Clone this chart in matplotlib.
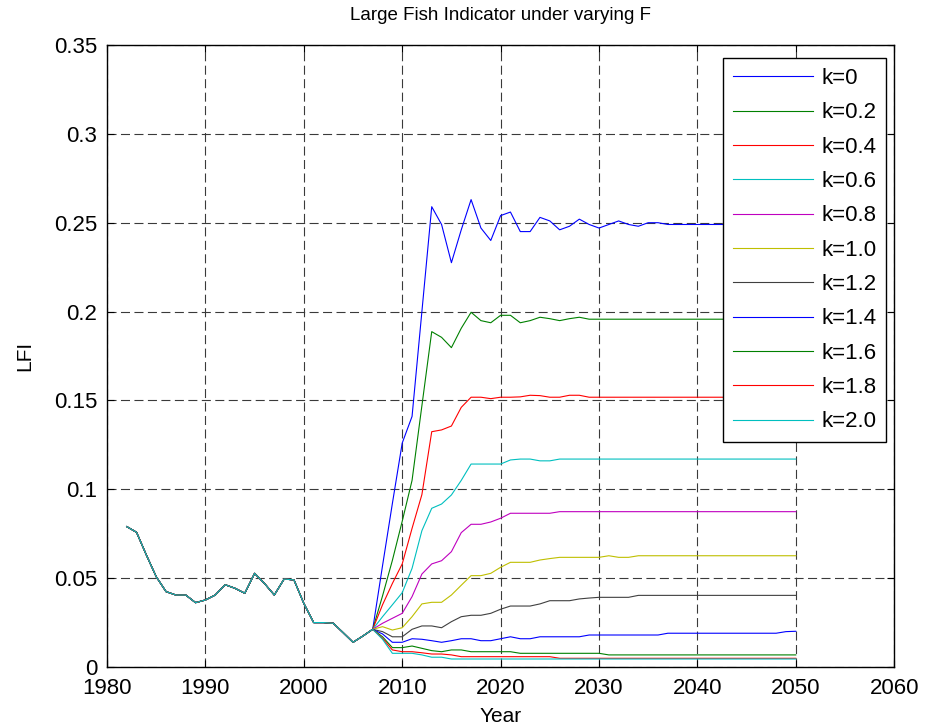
import matplotlib
matplotlib.use("Agg")
import matplotlib.pyplot as plt
import numpy as np

plt.rcParams['font.family'] = ['Liberation Sans', 'DejaVu Sans']

# ---------------- data ----------------
hist_years = list(range(1982, 2008))
hist_lfi = [0.079, 0.0758, 0.063, 0.0508, 0.0424, 0.0405, 0.0405, 0.0362, 0.0377, 0.0405,
            0.0463, 0.0443, 0.0415, 0.0527, 0.047, 0.0405, 0.0495, 0.049, 0.0358, 0.025,
            0.025, 0.0246, 0.0193, 0.0139, 0.0174, 0.0212]

proj_years = list(range(2008, 2051))

k_labels = ['k=0', 'k=0.2', 'k=0.4', 'k=0.6', 'k=0.8', 'k=1.0',
            'k=1.2', 'k=1.4', 'k=1.6', 'k=1.8', 'k=2.0']

k00 = [0.057, 0.092, 0.126, 0.141, 0.200, 0.259, 0.249, 0.2275, 0.246, 0.263,
       0.247, 0.240, 0.254, 0.256, 0.245, 0.245, 0.253, 0.251, 0.246, 0.248,
       0.252, 0.249, 0.247, 0.249, 0.251, 0.249, 0.248, 0.250, 0.250, 0.249,
       0.249, 0.249, 0.249, 0.249, 0.249, 0.249, 0.249, 0.249, 0.249, 0.249,
       0.249, 0.249, 0.249]
k02 = [0.040, 0.060, 0.082, 0.105, 0.147, 0.1887, 0.1855, 0.1797, 0.1906, 0.1996,
       0.1949, 0.1937, 0.1979, 0.1979, 0.1937, 0.1949, 0.1968, 0.1960, 0.1949, 0.1960,
       0.1968, 0.1957, 0.1957, 0.1957, 0.1957, 0.1957, 0.1957, 0.1957, 0.1957, 0.1957,
       0.1957, 0.1957, 0.1957, 0.1957, 0.1957, 0.1957, 0.1957, 0.1957, 0.1957, 0.1957,
       0.1957, 0.1957, 0.1957]
k04 = [0.035, 0.047, 0.058, 0.078, 0.097, 0.1324, 0.1334, 0.1356, 0.1461, 0.1518,
       0.1518, 0.1510, 0.1518, 0.1518, 0.1520, 0.1529, 0.1527, 0.1518, 0.1518, 0.1529,
       0.1529, 0.1518, 0.1518, 0.1518, 0.1518, 0.1518, 0.1518, 0.1518, 0.1518, 0.1518,
       0.1518, 0.1518, 0.1518, 0.1518, 0.1518, 0.1518, 0.1518, 0.1518, 0.1518, 0.1518,
       0.1518, 0.1518, 0.1518]
k06 = [0.0283, 0.0350, 0.0418, 0.0555, 0.0767, 0.0893, 0.0917, 0.0968, 0.1050, 0.1142,
       0.1142, 0.1142, 0.1142, 0.1165, 0.1170, 0.1170, 0.1160, 0.1160, 0.1170, 0.1170,
       0.1170, 0.1170, 0.1170, 0.1170, 0.1170, 0.1170, 0.1170, 0.1170, 0.1170, 0.1170,
       0.1170, 0.1170, 0.1170, 0.1170, 0.1170, 0.1170, 0.1170, 0.1170, 0.1170, 0.1170,
       0.1170, 0.1170, 0.1170]
k08 = [0.0246, 0.0274, 0.0302, 0.0396, 0.0523, 0.0580, 0.0598, 0.0649, 0.0756, 0.0803,
       0.0803, 0.0816, 0.0837, 0.0865, 0.0865, 0.0865, 0.0865, 0.0865, 0.0874, 0.0874,
       0.0874, 0.0874, 0.0874, 0.0874, 0.0874, 0.0874, 0.0874, 0.0874, 0.0874, 0.0874,
       0.0874, 0.0874, 0.0874, 0.0874, 0.0874, 0.0874, 0.0874, 0.0874, 0.0874, 0.0874,
       0.0874, 0.0874, 0.0874]
k10 = [0.0227, 0.0208, 0.0221, 0.0283, 0.0355, 0.0364, 0.0364, 0.0405, 0.0460, 0.0514,
       0.0514, 0.0527, 0.0561, 0.0589, 0.0589, 0.0589, 0.0602, 0.0610, 0.0617, 0.0617,
       0.0617, 0.0617, 0.0617, 0.0626, 0.0617, 0.0617, 0.0626, 0.0626, 0.0626, 0.0626,
       0.0626, 0.0626, 0.0626, 0.0626, 0.0626, 0.0626, 0.0626, 0.0626, 0.0626, 0.0626,
       0.0626, 0.0626, 0.0626]
k12 = [0.0199, 0.0170, 0.0170, 0.0212, 0.0231, 0.0231, 0.0221, 0.0255, 0.0283, 0.0291,
       0.0291, 0.0302, 0.0325, 0.0343, 0.0343, 0.0343, 0.0355, 0.0373, 0.0373, 0.0373,
       0.0383, 0.0388, 0.0392, 0.0392, 0.0392, 0.0392, 0.0403, 0.0403, 0.0403, 0.0403,
       0.0403, 0.0403, 0.0403, 0.0403, 0.0403, 0.0403, 0.0403, 0.0403, 0.0403, 0.0403,
       0.0403, 0.0403, 0.0403]
k14 = [0.0186, 0.0139, 0.0139, 0.0159, 0.0156, 0.0148, 0.0139, 0.0148, 0.0159, 0.0159,
       0.0148, 0.0148, 0.0159, 0.0170, 0.0159, 0.0159, 0.0170, 0.0170, 0.0170, 0.0170,
       0.0170, 0.0180, 0.0180, 0.0180, 0.0180, 0.0180, 0.0180, 0.0180, 0.0180, 0.0190,
       0.0190, 0.0190, 0.0190, 0.0190, 0.0190, 0.0190, 0.0190, 0.0190, 0.0190, 0.0190,
       0.0190, 0.0199, 0.0201]
k16 = [0.0170, 0.0109, 0.0109, 0.0118, 0.0105, 0.0092, 0.0086, 0.0096, 0.0096, 0.0086,
       0.0086, 0.0086, 0.0086, 0.0086, 0.0077, 0.0077, 0.0077, 0.0077, 0.0077, 0.0077,
       0.0077, 0.0077, 0.0077, 0.0068, 0.0068, 0.0068, 0.0068, 0.0068, 0.0068, 0.0068,
       0.0068, 0.0068, 0.0068, 0.0068, 0.0068, 0.0068, 0.0068, 0.0068, 0.0068, 0.0068,
       0.0068, 0.0068, 0.0068]
k18 = [0.0161, 0.0096, 0.0086, 0.0086, 0.0080, 0.0073, 0.0073, 0.0068, 0.0058, 0.0058,
       0.0058, 0.0058, 0.0058, 0.0058, 0.0058, 0.0058, 0.0058, 0.0058, 0.0049, 0.0049,
       0.0049, 0.0049, 0.0049, 0.0049, 0.0049, 0.0049, 0.0049, 0.0049, 0.0049, 0.0049,
       0.0049, 0.0049, 0.0049, 0.0049, 0.0049, 0.0049, 0.0049, 0.0049, 0.0049, 0.0049,
       0.0049, 0.0049, 0.0049]
k20 = [0.0156, 0.0077, 0.0077, 0.0077, 0.0068, 0.0055, 0.0055, 0.0045, 0.0045, 0.0045,
       0.0045, 0.0045, 0.0045, 0.0045, 0.0045, 0.0045, 0.0045, 0.0045, 0.0045, 0.0045,
       0.0045, 0.0045, 0.0045, 0.0045, 0.0045, 0.0045, 0.0045, 0.0045, 0.0045, 0.0045,
       0.0045, 0.0045, 0.0045, 0.0045, 0.0045, 0.0045, 0.0045, 0.0045, 0.0045, 0.0045,
       0.0045, 0.0045, 0.0045]

projections = [k00, k02, k04, k06, k08, k10, k12, k14, k16, k18, k20]

x_ticks = [1980, 1990, 2000, 2010, 2020, 2030, 2040, 2050, 2060]
y_ticks = [0, 0.05, 0.1, 0.15, 0.2, 0.25, 0.3, 0.35]
y_tick_labels = ['0', '0.05', '0.1', '0.15', '0.2', '0.25', '0.3', '0.35']

# MATLAB classic colour order
colors = [(0, 0, 1), (0, 0.5, 0), (1, 0, 0), (0, 0.75, 0.75), (0.75, 0, 0.75),
          (0.75, 0.75, 0), (0.25, 0.25, 0.25)]

# ---------------- figure ----------------
fig = plt.figure(figsize=(9.25, 7.28), dpi=100)
ax = fig.add_axes([0.1157, 0.0838, 0.851, 0.8544])

years = hist_years + proj_years
for i, (lab, proj) in enumerate(zip(k_labels, projections)):
    ax.plot(years, hist_lfi + proj, color=colors[i % len(colors)], lw=0.8, label=lab)

ax.set_xlim(1980, 2060)
ax.set_ylim(0, 0.35)
ax.set_xticks(x_ticks)
ax.set_xticklabels([str(t) for t in x_ticks])
ax.set_yticks(y_ticks)
ax.set_yticklabels(y_tick_labels)

gl = 0.8
ax.grid(True, color='#3a3a3a', lw=gl, linestyle=(0, (6.5 / gl, 3.2 / gl)))
ax.set_axisbelow(True)

ax.tick_params(direction='in', length=5, width=0.8, top=True, right=True,
               labelsize=16)
ax.tick_params(axis='y', pad=7)
ax.tick_params(axis='x', pad=8)
for s in ax.spines.values():
    s.set_linewidth(1.0)
    s.set_color('black')

ax.set_title('Large Fish Indicator under varying F', fontsize=13.5, pad=18)
ax.set_xlabel('Year', fontsize=15, labelpad=6)
ax.set_ylabel('LFI', fontsize=15, labelpad=14)

leg = ax.legend(loc='upper right', bbox_to_anchor=(0.9898, 0.979),
                fontsize=16, frameon=True, fancybox=False,
                framealpha=1, edgecolor='black', handlelength=3.6,
                handletextpad=0.35, labelspacing=0.6, borderpad=0.45,
                borderaxespad=0)
leg.get_frame().set_linewidth(1.0)

fig.savefig('out.png', dpi=100, facecolor='white')
